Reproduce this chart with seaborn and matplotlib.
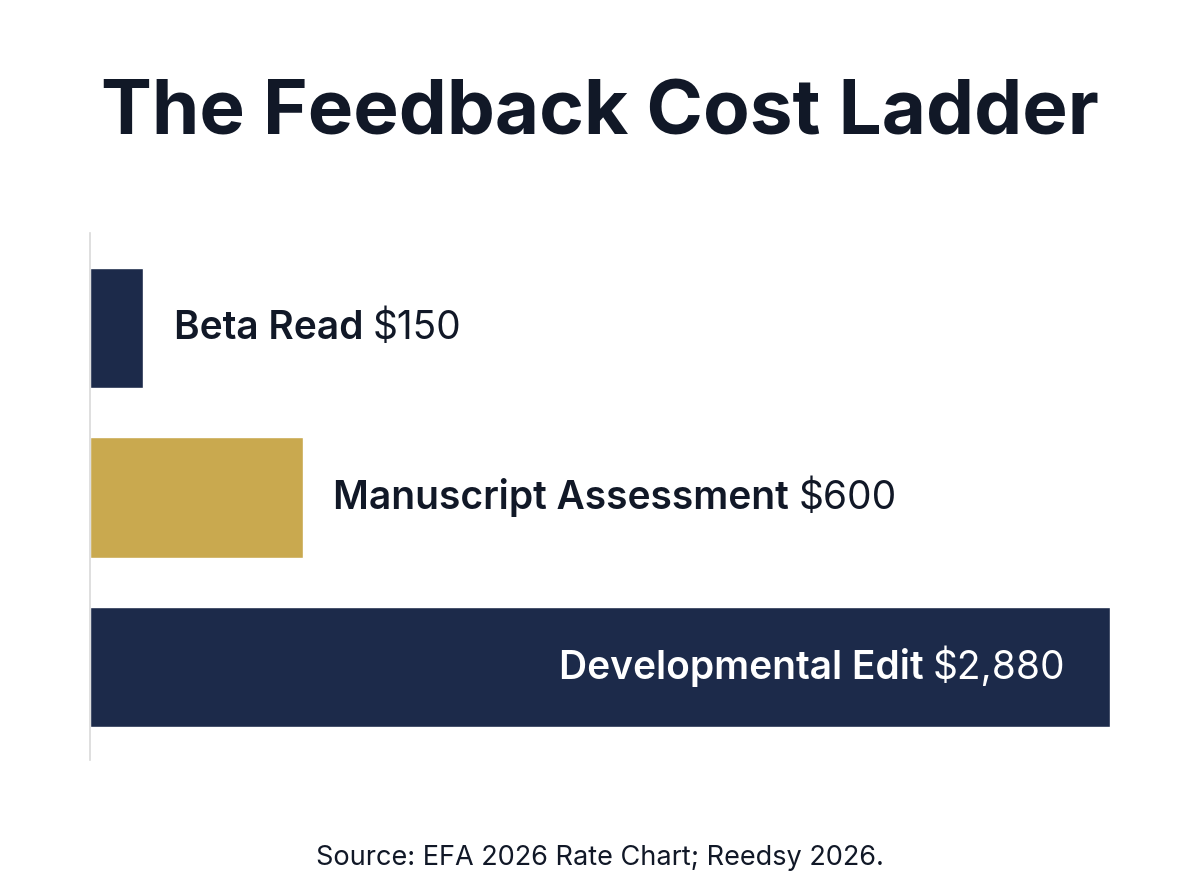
import matplotlib
matplotlib.use('Agg')
import matplotlib.pyplot as plt
import seaborn as sns
import pandas as pd

# Chart data
services = ['Beta Read', 'Manuscript Assessment', 'Developmental Edit']
costs = [150, 600, 2880]
price_labels = ['$150', '$600', '$2,880']
bar_colors = ['#1c2a4a', '#c9a94f', '#1c2a4a']

title = 'The Feedback Cost Ladder'
source = 'Source: EFA 2026 Rate Chart; Reedsy 2026.'

sns.set_theme(style='white')
plt.rcParams['font.family'] = ['Inter', 'DejaVu Sans']

df = pd.DataFrame({'service': services, 'cost': costs})

fig = plt.figure(figsize=(12, 8.96), dpi=100)
ax = fig.add_axes([0.075, 0.1518, 0.85, 0.588])

sns.barplot(data=df, x='cost', y='service', hue='service', palette=bar_colors,
            legend=False, width=0.71, saturation=1, ax=ax)

ax.set_xlim(0, 2880)
ax.set_ylim(2.55, -0.56)
ax.set_xlabel('')
ax.set_ylabel('')
ax.set_xticks([])
ax.set_yticks([])
for side in ['top', 'right', 'bottom']:
    ax.spines[side].set_visible(False)
ax.spines['left'].set_color('#d9d9d9')
ax.spines['left'].set_linewidth(1.2)

text_dark = '#111827'
label_size = 28

for i, (name, cost, price) in enumerate(zip(services, costs, price_labels)):
    if cost < 2000:
        # label to the right of the bar
        t1 = ax.annotate(name, xy=(cost, i), xytext=(22, 0), textcoords='offset points',
                         ha='left', va='center', fontsize=label_size, fontweight='semibold',
                         color=text_dark)
        ax.annotate(price, xy=(1, 0), xycoords=t1, xytext=(7, 0), textcoords='offset points',
                    ha='left', va='bottom', fontsize=label_size, color=text_dark)
    else:
        # label inside the bar, right aligned
        t2 = ax.annotate(price, xy=(cost, i), xytext=(-32, 0), textcoords='offset points',
                         ha='right', va='center', fontsize=label_size, color='white')
        ax.annotate(name, xy=(0, 0), xycoords=t2, xytext=(-7, 0), textcoords='offset points',
                    ha='right', va='bottom', fontsize=label_size, fontweight='semibold',
                    color='white')

fig.text(0.5, 0.872, title, ha='center', va='center', fontsize=55, fontweight='bold',
         color=text_dark)
fig.text(0.5, 0.042, source, ha='center', va='center', fontsize=19.5, color=text_dark)

fig.savefig('out.png', dpi=100, facecolor='white')
